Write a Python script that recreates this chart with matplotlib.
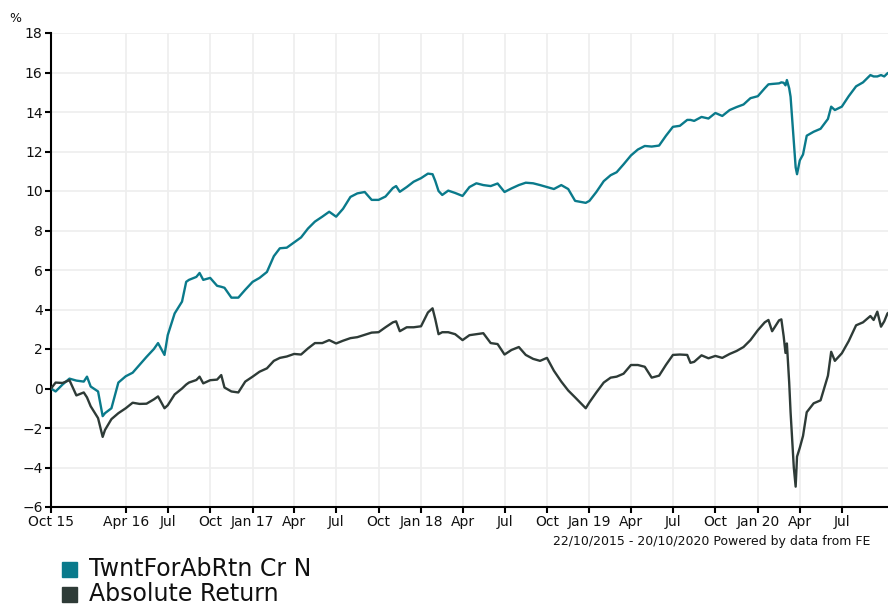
import matplotlib
matplotlib.use('Agg')
import pandas as pd
import matplotlib.pyplot as plt
from matplotlib.patches import Rectangle

# cumulative performance (%)
dates = ['2015-10-22', '2015-11-01', '2015-11-16', '2015-12-01', '2015-12-16',
         '2016-01-01', '2016-01-08', '2016-01-16', '2016-02-01', '2016-02-11',
         '2016-02-16', '2016-03-01', '2016-03-16', '2016-04-01', '2016-04-16',
         '2016-05-01', '2016-05-16', '2016-06-01', '2016-06-10', '2016-06-24',
         '2016-07-01', '2016-07-16', '2016-08-01', '2016-08-10', '2016-08-16',
         '2016-09-01', '2016-09-08', '2016-09-16', '2016-10-01', '2016-10-16',
         '2016-10-25', '2016-11-01', '2016-11-16', '2016-12-01', '2016-12-16',
         '2017-01-01', '2017-01-16', '2017-02-01', '2017-02-16', '2017-03-01',
         '2017-03-16', '2017-04-01', '2017-04-16', '2017-05-01', '2017-05-16',
         '2017-06-01', '2017-06-16', '2017-07-01', '2017-07-16', '2017-08-01',
         '2017-08-16', '2017-09-01', '2017-09-16', '2017-10-01', '2017-10-16',
         '2017-11-01', '2017-11-08', '2017-11-16', '2017-12-01', '2017-12-16',
         '2018-01-01', '2018-01-16', '2018-01-26', '2018-02-01', '2018-02-08',
         '2018-02-16', '2018-03-01', '2018-03-16', '2018-04-01', '2018-04-16',
         '2018-05-01', '2018-05-16', '2018-06-01', '2018-06-16', '2018-07-01',
         '2018-07-16', '2018-08-01', '2018-08-16', '2018-09-01', '2018-09-16',
         '2018-10-01', '2018-10-16', '2018-11-01', '2018-11-16', '2018-12-01',
         '2018-12-24', '2019-01-01', '2019-01-16', '2019-02-01', '2019-02-16',
         '2019-03-01', '2019-03-16', '2019-04-01', '2019-04-16', '2019-05-01',
         '2019-05-16', '2019-06-01', '2019-06-16', '2019-07-01', '2019-07-16',
         '2019-08-01', '2019-08-08', '2019-08-16', '2019-09-01', '2019-09-16',
         '2019-10-01', '2019-10-16', '2019-11-01', '2019-11-16', '2019-12-01',
         '2019-12-16', '2020-01-01', '2020-01-16', '2020-01-24', '2020-02-01',
         '2020-02-16', '2020-02-21', '2020-02-26', '2020-03-01', '2020-03-04',
         '2020-03-09', '2020-03-12', '2020-03-16', '2020-03-19', '2020-03-23',
         '2020-03-26', '2020-04-01', '2020-04-08', '2020-04-16', '2020-05-01',
         '2020-05-16', '2020-06-01', '2020-06-08', '2020-06-16', '2020-07-01',
         '2020-07-16', '2020-08-01', '2020-08-16', '2020-09-01', '2020-09-08',
         '2020-09-16', '2020-09-24', '2020-10-01', '2020-10-08', '2020-10-20']

fund = [0.0, -0.15, 0.2, 0.5, 0.4,
        0.35, 0.6, 0.1, -0.15, -1.4,
        -1.25, -1.0, 0.3, 0.62, 0.8,
        1.2, 1.6, 2.0, 2.3, 1.7,
        2.7, 3.8, 4.4, 5.4, 5.5,
        5.65, 5.85, 5.5, 5.6, 5.2,
        5.15, 5.1, 4.6, 4.6, 5.0,
        5.4, 5.6, 5.9, 6.7, 7.1,
        7.13, 7.4, 7.65, 8.1, 8.45,
        8.7, 8.95, 8.7, 9.1, 9.7,
        9.88, 9.95, 9.55, 9.55, 9.72,
        10.15, 10.25, 9.96, 10.2, 10.47,
        10.65, 10.88, 10.85, 10.5, 10.0,
        9.8, 10.02, 9.9, 9.75, 10.2,
        10.39, 10.3, 10.25, 10.38, 9.95,
        10.13, 10.3, 10.42, 10.39, 10.3,
        10.2, 10.1, 10.3, 10.1, 9.5,
        9.4, 9.5, 9.95, 10.5, 10.8,
        10.95, 11.35, 11.8, 12.1, 12.28,
        12.25, 12.3, 12.8, 13.25, 13.3,
        13.6, 13.6, 13.55, 13.75, 13.67,
        13.95, 13.8, 14.1, 14.25, 14.38,
        14.7, 14.8, 15.2, 15.4, 15.42,
        15.45, 15.5, 15.48, 15.35, 15.62,
        15.2, 14.77, 13.5, 12.5, 11.2,
        10.85, 11.55, 11.85, 12.8, 13.0,
        13.15, 13.65, 14.27, 14.1, 14.27,
        14.8, 15.3, 15.5, 15.87, 15.8,
        15.8, 15.87, 15.8, 15.96, 16.1]

sector = [0.0, 0.3, 0.28, 0.42, -0.35,
          -0.2, -0.45, -0.9, -1.5, -2.45,
          -2.1, -1.55, -1.25, -1.0, -0.72,
          -0.78, -0.77, -0.55, -0.4, -1.0,
          -0.85, -0.3, 0.0, 0.2, 0.3,
          0.43, 0.6, 0.26, 0.42, 0.45,
          0.68, 0.05, -0.15, -0.2, 0.35,
          0.6, 0.85, 1.02, 1.4, 1.55,
          1.62, 1.75, 1.72, 2.03, 2.3,
          2.3, 2.45, 2.28, 2.42, 2.55,
          2.6, 2.72, 2.83, 2.85, 3.1,
          3.35, 3.4, 2.9, 3.1, 3.1,
          3.15, 3.85, 4.06, 3.5, 2.75,
          2.85, 2.85, 2.75, 2.45, 2.7,
          2.75, 2.8, 2.3, 2.25, 1.72,
          1.95, 2.1, 1.7, 1.5, 1.4,
          1.55, 0.9, 0.35, -0.1, -0.45,
          -1.0, -0.7, -0.2, 0.3, 0.55,
          0.6, 0.75, 1.19, 1.19, 1.1,
          0.55, 0.65, 1.2, 1.7, 1.72,
          1.7, 1.3, 1.35, 1.68, 1.53,
          1.65, 1.55, 1.75, 1.9, 2.1,
          2.45, 2.95, 3.35, 3.47, 2.9,
          3.45, 3.5, 2.65, 1.8, 2.28,
          0.3, -1.2, -2.8, -4.0, -4.97,
          -3.45, -3.0, -2.4, -1.2, -0.75,
          -0.6, 0.65, 1.86, 1.4, 1.78,
          2.4, 3.2, 3.35, 3.67, 3.47,
          3.89, 3.13, 3.4, 3.8, 4.0]

series_names = ['TwntForAbRtn Cr N', 'Absolute Return']
series_colors = ['#0a7a8b', '#2e3b37']

tick_dates = ['2015-10-22', '2016-04-01', '2016-07-01', '2016-10-01', '2017-01-01',
              '2017-04-01', '2017-07-01', '2017-10-01', '2018-01-01', '2018-04-01',
              '2018-07-01', '2018-10-01', '2019-01-01', '2019-04-01', '2019-07-01',
              '2019-10-01', '2020-01-01', '2020-04-01', '2020-07-01']
tick_labels = ['Oct 15', 'Apr 16', 'Jul', 'Oct', 'Jan 17', 'Apr', 'Jul', 'Oct', 'Jan 18',
               'Apr', 'Jul', 'Oct', 'Jan 19', 'Apr', 'Jul', 'Oct', 'Jan 20', 'Apr', 'Jul']
yticks = list(range(-6, 19, 2))

fig = plt.figure(figsize=(8.88, 6.06), dpi=100)
ax = fig.add_axes([51 / 888, 1 - 507 / 606, (893 - 51) / 888, (507 - 33) / 606])

x = pd.to_datetime(dates)
ax.plot(x, fund, color=series_colors[0], lw=1.7, zorder=3)
ax.plot(x, sector, color=series_colors[1], lw=1.7, zorder=3)

ax.set_xlim(pd.Timestamp('2015-10-22'), pd.Timestamp('2020-10-20'))
ax.set_ylim(-6, 18)
ax.set_yticks(yticks)
ax.set_xticks(pd.to_datetime(tick_dates))
ax.set_xticklabels(tick_labels)

ax.grid(True, color='#eeeeee', lw=1.2)
ax.set_axisbelow(True)
for s in ['top', 'right']:
    ax.spines[s].set_visible(False)
for s in ['left', 'bottom']:
    ax.spines[s].set_linewidth(1.5)
    ax.spines[s].set_color('black')
ax.tick_params(length=4, width=1.5, color='black', labelsize=10, pad=2, labelcolor='#111111')

fig.text(15 / 888, 1 - 18 / 606, '%', fontsize=9, ha='center', va='center', color='#111111')
fig.text(553 / 888, 1 - 542 / 606, '22/10/2015 - 20/10/2020 Powered by data from FE',
         fontsize=9, ha='left', va='center', color='#111111')

# legend drawn by hand under the chart
for i, (name, col) in enumerate(zip(series_names, series_colors)):
    yc = 569.5 + i * 24.5
    fig.add_artist(Rectangle((62 / 888, 1 - (yc + 7.5) / 606), 15 / 888, 15 / 606,
                             transform=fig.transFigure, color=col))
    fig.text(89 / 888, 1 - yc / 606, name, fontsize=17, ha='left', va='center', color='#111111')

fig.savefig('out.png', dpi=100)
